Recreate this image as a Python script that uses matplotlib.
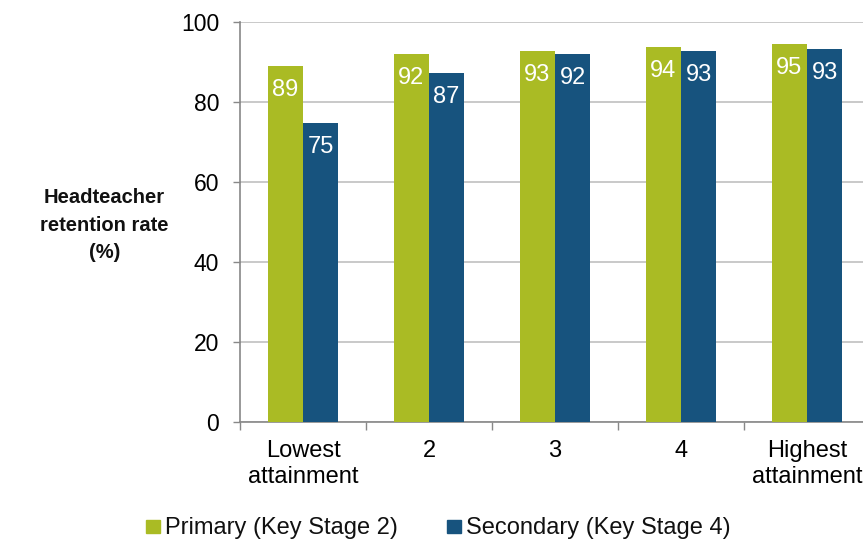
import matplotlib
matplotlib.use("Agg")
import matplotlib.pyplot as plt
import matplotlib.patches as mpatches
import numpy as np

plt.rcParams['font.family'] = ['Liberation Sans', 'DejaVu Sans']

# values
categories = ['Lowest\nattainment', '2', '3', '4', 'Highest\nattainment']
primary = [89.2, 92.1, 92.9, 93.8, 94.6]
secondary = [74.8, 87.3, 92.1, 92.9, 93.3]
series_names = ['Primary (Key Stage 2)', 'Secondary (Key Stage 4)']
yticks = [0, 20, 40, 60, 80, 100]

green = '#AABB24'
blue = '#17537E'
W, H = 863, 539

fig = plt.figure(figsize=(W / 100, H / 100), dpi=100)
ax = fig.add_axes([240 / W, 1 - 422.3 / H, 630 / W, 400 / H])

x = np.arange(len(categories))
w = 0.28
b1 = ax.bar(x - w / 2, primary, w, color=green, zorder=3)
b2 = ax.bar(x + w / 2, secondary, w, color=blue, zorder=3)

for bars, vals in ((b1, primary), (b2, secondary)):
    for rect, v in zip(bars, vals):
        ax.annotate(f'{round(v):d}', (rect.get_x() + rect.get_width() / 2, v),
                    xytext=(0, -17.3), textcoords='offset points',
                    ha='center', va='center', color='white', fontsize=17)

ax.set_xlim(-0.5, len(categories) - 0.5)
ax.set_ylim(0, 100)
ax.set_yticks(yticks)
ax.yaxis.grid(True, color='#C0C0C0', linewidth=1.2, zorder=0)
ax.set_axisbelow(True)

ax.set_xticks(x)
ax.set_xticklabels(categories, fontsize=17, linespacing=1.2)
ax.set_xticks(np.arange(len(categories) + 1) - 0.5, minor=True)
ax.tick_params(axis='x', which='major', length=0, pad=13)
ax.tick_params(axis='x', which='minor', length=5.8, color='#888888', width=1)
ax.tick_params(axis='y', labelsize=16.5, length=5, color='#888888', width=1, pad=10)

for s in ('top', 'right'):
    ax.spines[s].set_visible(False)
for s in ('left', 'bottom'):
    ax.spines[s].set_color('#888888')
    ax.spines[s].set_linewidth(1.2)

fig.text(104.5 / W, 1 - 225 / H, 'Headteacher\nretention rate\n(%)',
         ha='center', va='center', fontsize=14.5, fontweight='bold',
         linespacing=1.55, color='#111111')

# legend drawn by hand at the bottom
legend_x = [146, 447]
for lx, col, name in zip(legend_x, [green, blue], series_names):
    fig.add_artist(mpatches.Rectangle((lx / W, 1 - 533 / H), 14 / W, 13 / H,
                                      transform=fig.transFigure, color=col))
    fig.text((lx + 19) / W, 1 - 534 / H, name, fontsize=17, ha='left',
             va='baseline', color='#111111')

fig.savefig('out.png', dpi=100)
